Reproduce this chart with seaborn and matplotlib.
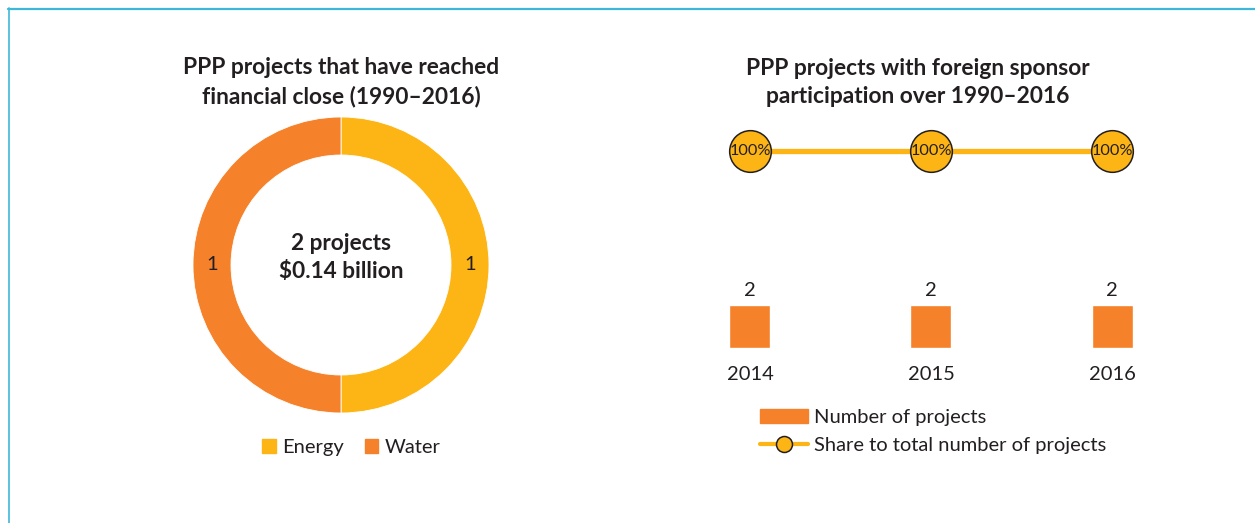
import matplotlib
matplotlib.use("Agg")
import matplotlib.pyplot as plt
import seaborn as sns
import numpy as np
from matplotlib.patches import Patch
from matplotlib.lines import Line2D

# ---------------- data ----------------
sectors = ["Energy", "Water"]
sector_projects = [1, 1]
total_projects = 2
total_investment_bn = 0.14

years = ["2014", "2015", "2016"]
num_projects = [2, 2, 2]
share_pct = [100, 100, 100]

title_left = "PPP projects that have reached\nfinancial close (1990–2016)"
title_right = "PPP projects with foreign sponsor\nparticipation over 1990–2016"

# ---------------- style ----------------
sns.set_theme(style="white")
plt.rcParams["font.family"] = ["Lato", "DejaVu Sans"]
YELLOW = "#FDB515"
ORANGE = "#F5812A"
DARK = "#231F20"
BORDER = "#3DB8D8"
FS = 14.5

W, H = 1255, 523
fig = plt.figure(figsize=(W / 100, H / 100), dpi=100)
fig.patch.set_facecolor("white")


def rect(x0, y_top, x1, y_bot):
    return [x0 / W, (H - y_bot) / H, (x1 - x0) / W, (y_bot - y_top) / H]


def fx(x):
    return x / W


def fy(y):
    return (H - y) / H


# border lines (top and left)
fig.add_artist(Line2D([fx(8), 1], [fy(8.5), fy(8.5)], color=BORDER, lw=1.6))
fig.add_artist(Line2D([fx(8.5), fx(8.5)], [fy(8), 0], color=BORDER, lw=1.2))

# ---------------- donut ----------------
cx, cy, R = 341, 265, 148
pad = 12
axd = fig.add_axes(rect(cx - R - pad, cy - R - pad, cx + R + pad, cy + R + pad))
ring = 38 / R
wedges, _ = axd.pie(sector_projects, colors=[YELLOW, ORANGE], startangle=90,
                    counterclock=False, radius=1,
                    wedgeprops=dict(width=ring, edgecolor="white", linewidth=0.6))
lim = (R + pad) / R
axd.set_xlim(-lim, lim)
axd.set_ylim(-lim, lim)
axd.set_aspect("equal")
axd.axis("off")
rmid = 1 - ring / 2
for w, v in zip(wedges, sector_projects):
    ang = np.deg2rad((w.theta1 + w.theta2) / 2)
    axd.text(rmid * np.cos(ang), rmid * np.sin(ang), str(v), ha="center",
             va="center", fontsize=FS, color=DARK)
axd.text(0, 0.147, f"{total_projects} projects", ha="center", va="center",
         fontsize=16.3, fontweight="bold", color=DARK)
axd.text(0, -0.043, f"${total_investment_bn:.2f} billion", ha="center",
         va="center", fontsize=16.3, fontweight="bold", color=DARK)

fig.text(fx(341), fy(82.5), title_left, ha="center", va="center", fontsize=16.4,
         fontweight="bold", color=DARK, linespacing=1.45)

fig.legend(handles=[Patch(color=YELLOW), Patch(color=ORANGE)], labels=sectors,
           loc="upper left", bbox_to_anchor=(fx(252), fy(429)), ncol=2,
           frameon=False, fontsize=FS, handlelength=0.68, handleheight=0.68,
           handletextpad=0.3, columnspacing=1.05, borderpad=0,
           labelcolor=DARK)

# ---------------- right chart ----------------
x_left_px, x_right_px = 700, 1160
c0, c2 = 750, 1112
unit = (c2 - c0) / 2
xlim = (-(c0 - x_left_px) / unit, 2 + (x_right_px - c2) / unit)

# bars
bar_bot, bar_h = 348, 43
axb = fig.add_axes(rect(x_left_px, bar_bot - 88, x_right_px, bar_bot))
sns.barplot(x=years, y=num_projects, ax=axb, color=ORANGE, saturation=1,
            width=41 / unit, errorbar=None)
axb.set_xlim(*xlim)
axb.set_ylim(0, max(num_projects) * 88 / bar_h)
axb.axis("off")
for i, (yr, v) in enumerate(zip(years, num_projects)):
    axb.annotate(str(v), (i, v), xytext=(0, 14 * 0.72), textcoords="offset points",
                 ha="center", va="center", fontsize=FS, color=DARK)
    axb.annotate(yr, (i, 0), xytext=(0, -26 * 0.72), textcoords="offset points",
                 ha="center", va="center", fontsize=FS, color=DARK)

# line with circles
axl = fig.add_axes(rect(x_left_px, 120, x_right_px, 182))
xs = list(range(len(years)))
sns.lineplot(x=xs, y=share_pct, ax=axl, color=YELLOW, lw=3.8, zorder=1)
sns.scatterplot(x=xs, y=share_pct, ax=axl, s=900, color=YELLOW,
                edgecolor=DARK, linewidth=1.1, zorder=2)
axl.set_xlim(*xlim)
axl.set_ylim(0, 200)
axl.axis("off")
for i, v in enumerate(share_pct):
    axl.text(i, v, f"{v}%", ha="center", va="center", fontsize=11.7,
             color=DARK, zorder=3)

fig.text(fx(918), fy(82.5), title_right, ha="center", va="center", fontsize=16.4,
         fontweight="bold", color=DARK, linespacing=1.45)

fig.legend(handles=[Patch(color=ORANGE),
                    Line2D([0], [0], color=YELLOW, lw=3, marker="o",
                           markersize=11.5, markerfacecolor=YELLOW,
                           markeredgecolor=DARK, markeredgewidth=1.1)],
           labels=["Number of projects", "Share to total number of projects"],
           loc="upper left", bbox_to_anchor=(fx(750), fy(399)),
           frameon=False, fontsize=FS, handlelength=2.4, handleheight=0.66,
           handletextpad=0.3, labelspacing=0.52, borderpad=0, labelcolor=DARK)

fig.savefig("out.png", dpi=100, facecolor="white")
